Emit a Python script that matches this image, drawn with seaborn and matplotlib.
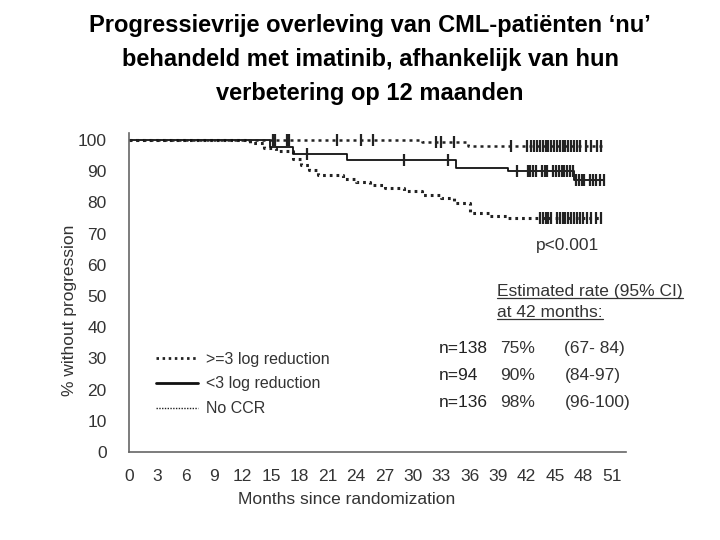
import numpy as np
import pandas as pd
import seaborn as sns
import matplotlib
matplotlib.use("Agg")
import matplotlib.pyplot as plt
from matplotlib.lines import Line2D

# curves (months, % without progression)
good_t = [0, 12.8, 14.3, 15.5, 17.3, 18.2, 19.0, 20.0, 22.6, 24.0, 25.5, 27.0, 29.0, 31.0, 33.0, 34.3, 36.0, 38.0, 40.0, 50.0]
good_s = [100, 99, 97.5, 96.5, 94, 92, 90.5, 88.8, 87.5, 86.5, 85.5, 84.6, 83.5, 82.4, 81.4, 79.8, 76.6, 75.5, 75, 75]

mid_t = [0, 14.9, 17.3, 23.0, 34.5, 40.0, 47.0, 50.2]
mid_s = [100, 97.8, 95.5, 93.6, 91, 90, 87, 87]

noccr_t = [0, 31.0, 35.8, 50.0]
noccr_s = [100, 99.2, 98, 98]

# censoring times
good_cens = [43.4, 43.7, 44.0, 44.3, 44.6, 45.2, 45.5, 45.8, 46.1, 46.4, 46.7, 47.0,
             47.3, 47.6, 48.0, 48.4, 48.8, 49.3, 49.9]
mid_cens = [18.8, 29.0, 33.7, 41.0, 42.1, 42.4, 42.7, 43.0, 43.6, 43.9, 44.2, 44.8,
            45.1, 45.4, 45.7, 46.0, 46.3, 46.6, 46.9, 47.2, 47.5, 47.8, 48.1, 48.7,
            49.0, 49.3, 49.8, 50.2]
noccr_cens = [15.2, 15.4, 16.7, 16.9, 22.0, 24.5, 25.8, 32.4, 33.0, 34.3, 40.4, 42.0,
              42.5, 42.8, 43.1, 43.4, 43.7, 44.0, 44.3, 44.6, 44.9, 45.2, 45.5, 45.8,
              46.1, 46.4, 46.7, 47.0, 47.3, 47.6, 48.3, 48.8, 49.4, 49.9]

labels = [">=3 log reduction", "<3 log reduction", "No CCR"]
n_text = ["n=138", "n=94", "n=136"]
rate_text = ["75%", "90%", "98%"]
ci_text = ["(67- 84)", "(84-97)", "(96-100)"]

x_ticks = list(range(0, 52, 3))
y_ticks = list(range(0, 101, 10))

title = ("Progressievrije overleving van CML-patiënten \u2018nu\u2019\n"
         "behandeld met imatinib, afhankelijk van hun\n"
         "verbetering op 12 maanden")


def surv_at(ts, ss, c):
    idx = np.searchsorted(ts, c, side="right") - 1
    return np.array(ss)[idx]


sns.set_style("white")
plt.rcParams["font.family"] = ["Liberation Sans", "DejaVu Sans"]
txt = "#333333"

fig = plt.figure(figsize=(7.2, 5.4), dpi=100)
ax = fig.add_axes([129 / 720, 1 - 452 / 540, 497 / 720, 319 / 540])

styles = [
    dict(color="#222222", linewidth=2.2, linestyle=(0, (0.9, 1.3))),
    dict(color="#111111", linewidth=1.3, linestyle="-"),
    dict(color="#222222", linewidth=1.8, linestyle=(0, (1.2, 1.6))),
]
curves = [(good_t, good_s, good_cens), (mid_t, mid_s, mid_cens), (noccr_t, noccr_s, noccr_cens)]

for (t, s, cens), lab, st in zip(curves, labels, styles):
    df = pd.DataFrame({"month": t, "pct": s})
    sns.lineplot(data=df, x="month", y="pct", drawstyle="steps-post", ax=ax, label=lab, **st)
    ax.plot(cens, surv_at(t, s, cens), ls="none", marker="|", markersize=8,
            markeredgewidth=1.6, color="#222222")

ax.set_xlim(0, 52.5)
ax.set_ylim(0, 102.2)
ax.set_xticks(x_ticks)
ax.set_yticks(y_ticks)
ax.tick_params(axis="both", labelsize=12.5, colors=txt, length=3, width=1, direction="out")
ax.tick_params(axis="x", pad=9)
ax.tick_params(axis="y", pad=13)
ax.set_xlabel("Months since randomization", fontsize=12.5, color=txt)
ax.set_ylabel("% without progression", fontsize=12.5, color=txt)
ax.xaxis.set_label_coords(0.438, -0.125)
ax.yaxis.set_label_coords(-0.104, 0.445)
for side in ["top", "right"]:
    ax.spines[side].set_visible(False)
for side in ["left", "bottom"]:
    ax.spines[side].set_color("#666666")
    ax.spines[side].set_linewidth(1.2)

leg = ax.legend(loc="upper left", bbox_to_anchor=(0.026, 0.36), frameon=False,
                fontsize=11.5, handlelength=2.6, handletextpad=0.5, labelspacing=0.62)
for t in leg.get_texts():
    t.set_color(txt)
hl = leg.get_lines()
hl[0].set_linewidth(2.0)
hl[1].set_linewidth(2.0)
hl[2].set_linewidth(1.0)
hl[2].set_linestyle((0, (1, 1)))

ax.text(43.0, 66.3, "p<0.001", fontsize=12.5, color=txt, va="center")
h1 = ax.text(38.9, 51.3, "Estimated rate (95% CI)", fontsize=12.5, color=txt, va="center")
h2 = ax.text(38.9, 44.6, "at 42 months:", fontsize=12.5, color=txt, va="center")
for i, yy in enumerate([33.3, 24.4, 15.7]):
    ax.text(32.7, yy, n_text[i], fontsize=12.5, color="#222222", va="center")
    ax.text(39.2, yy, rate_text[i], fontsize=12.5, color=txt, va="center")
    ax.text(46.0, yy, ci_text[i], fontsize=12.5, color=txt, va="center")

fig.text(0.514, 1 - 14 / 540, title, ha="center", va="top", fontsize=17,
         fontweight="bold", color="black", linespacing=1.6)

# underline the heading
fig.canvas.draw()
r = fig.canvas.get_renderer()
for h in [h1, h2]:
    bb = h.get_window_extent(renderer=r)
    x0, x1 = bb.x0 / 720, bb.x1 / 720
    yy = (bb.y0 + 1) / 540
    fig.add_artist(Line2D([x0, x1], [yy, yy], color=txt, linewidth=0.9))

fig.savefig("out.png", dpi=100)
